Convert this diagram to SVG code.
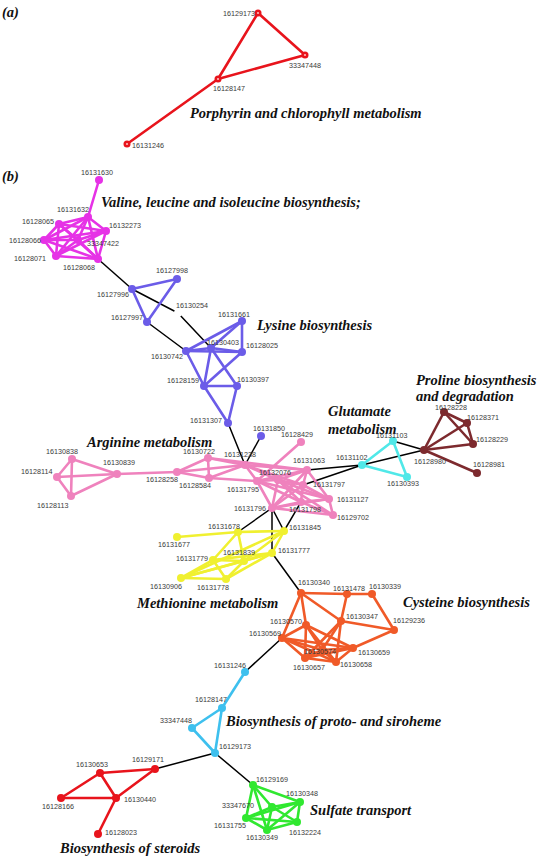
<svg xmlns="http://www.w3.org/2000/svg" width="541" height="856" viewBox="0 0 541 856">
<style>
text{font-family:"Liberation Sans",Arial,sans-serif;font-size:7.2px;fill:#3a3a3a}
.t{font-family:"Liberation Serif","Times New Roman",serif;font-size:14.5px;font-style:italic;font-weight:bold;fill:#111}
line{stroke-width:2.6;stroke-linecap:round}
.k{stroke:#000;stroke-width:1.5}
.r{stroke:#e8141c}.m{stroke:#e632e6}.b{stroke:#6b5ce8}.p{stroke:#ef82bd}.c{stroke:#50e8e8}.w{stroke:#7d2a2e}.y{stroke:#f0f030}.o{stroke:#f05a28}.s{stroke:#3ec0ee}.g{stroke:#30e830}
circle{stroke:none}
.R{fill:#e8141c}.M{fill:#e632e6}.B{fill:#6b5ce8}.P{fill:#ef82bd}.C{fill:#50e8e8}.W{fill:#7d2a2e}.Y{fill:#f0f030}.O{fill:#f05a28}.S{fill:#3ec0ee}.G{fill:#30e830}
</style>
<rect width="541" height="856" fill="#fff"/>
<text class="t" x="2" y="17">(a)</text>
<text class="t" x="2" y="181">(b)</text>
<text class="t" x="190" y="118">Porphyrin and chlorophyll metabolism</text>
<text class="t" x="101" y="207">Valine, leucine and isoleucine biosynthesis;</text>
<text class="t" x="257" y="330">Lysine biosynthesis</text>
<text class="t" x="416" y="385">Proline biosynthesis</text>
<text class="t" x="416" y="401">and degradation</text>
<text class="t" x="328" y="416">Glutamate</text>
<text class="t" x="328" y="434">metabolism</text>
<text class="t" x="87" y="447">Arginine metabolism</text>
<text class="t" x="137" y="608">Methionine metabolism</text>
<text class="t" x="403" y="607">Cysteine biosynthesis</text>
<text class="t" x="226" y="726">Biosynthesis of proto- and siroheme</text>
<text class="t" x="310" y="815">Sulfate transport</text>
<text class="t" x="60" y="853">Biosynthesis of steroids</text>
<g id="connectors">
<line class="r" x1="258" y1="13" x2="305" y2="55"/><line class="r" x1="305" y1="55" x2="218" y2="79"/><line class="r" x1="218" y1="79" x2="258" y2="13"/><line class="r" x1="218" y1="79" x2="127" y2="144"/>
<line class="k" x1="98" y1="259" x2="132" y2="289"/><line class="k" x1="132" y1="289" x2="178" y2="313"/><line class="k" x1="178" y1="313" x2="211" y2="348"/><line class="k" x1="147" y1="322" x2="186" y2="351"/><line class="k" x1="228" y1="423" x2="245" y2="465"/><line class="k" x1="261" y1="436" x2="245" y2="465"/><line class="k" x1="307" y1="470" x2="362" y2="465"/><line class="k" x1="303" y1="485" x2="362" y2="465"/><line class="k" x1="362" y1="465" x2="424" y2="450"/><line class="k" x1="393" y1="441" x2="424" y2="450"/><line class="k" x1="272" y1="508" x2="238" y2="532"/><line class="k" x1="272" y1="508" x2="272" y2="553"/><line class="k" x1="272" y1="508" x2="284" y2="531"/><line class="k" x1="301" y1="502" x2="284" y2="531"/><line class="k" x1="272" y1="553" x2="301" y2="593"/><line class="k" x1="282" y1="638" x2="245" y2="672"/><line class="k" x1="215" y1="753" x2="155" y2="769"/><line class="k" x1="215" y1="753" x2="253" y2="785"/>
<line class="m" x1="99" y1="180" x2="88" y2="217"/>
<line class="m" x1="88" y1="217" x2="59" y2="224"/><line class="m" x1="88" y1="217" x2="106" y2="231"/><line class="m" x1="88" y1="217" x2="44" y2="240"/><line class="m" x1="88" y1="217" x2="78" y2="240"/><line class="m" x1="88" y1="217" x2="56" y2="256"/><line class="m" x1="88" y1="217" x2="98" y2="259"/>
<line class="m" x1="59" y1="224" x2="106" y2="231"/><line class="m" x1="59" y1="224" x2="44" y2="240"/><line class="m" x1="59" y1="224" x2="78" y2="240"/><line class="m" x1="59" y1="224" x2="56" y2="256"/><line class="m" x1="59" y1="224" x2="98" y2="259"/>
<line class="m" x1="106" y1="231" x2="44" y2="240"/><line class="m" x1="106" y1="231" x2="78" y2="240"/><line class="m" x1="106" y1="231" x2="56" y2="256"/><line class="m" x1="106" y1="231" x2="98" y2="259"/>
<line class="m" x1="44" y1="240" x2="78" y2="240"/><line class="m" x1="44" y1="240" x2="56" y2="256"/><line class="m" x1="44" y1="240" x2="98" y2="259"/>
<line class="m" x1="78" y1="240" x2="56" y2="256"/><line class="m" x1="78" y1="240" x2="98" y2="259"/><line class="m" x1="56" y1="256" x2="98" y2="259"/>
<line class="b" x1="132" y1="289" x2="177" y2="279"/><line class="b" x1="177" y1="279" x2="147" y2="322"/><line class="b" x1="132" y1="289" x2="147" y2="322"/>
<line class="b" x1="242" y1="321" x2="186" y2="351"/><line class="b" x1="242" y1="321" x2="211" y2="348"/><line class="b" x1="242" y1="321" x2="242" y2="352"/><line class="b" x1="186" y1="351" x2="211" y2="348"/><line class="b" x1="186" y1="351" x2="242" y2="352"/><line class="b" x1="211" y1="348" x2="242" y2="352"/><line class="b" x1="186" y1="351" x2="204" y2="386"/><line class="b" x1="211" y1="348" x2="204" y2="386"/><line class="b" x1="211" y1="348" x2="237" y2="386"/><line class="b" x1="242" y1="352" x2="204" y2="386"/><line class="b" x1="204" y1="386" x2="237" y2="386"/><line class="b" x1="204" y1="386" x2="228" y2="423"/><line class="b" x1="237" y1="386" x2="228" y2="423"/>
<line class="p" x1="72" y1="459" x2="57" y2="477"/><line class="p" x1="72" y1="459" x2="71" y2="496"/><line class="p" x1="72" y1="459" x2="117" y2="474"/><line class="p" x1="57" y1="477" x2="71" y2="496"/><line class="p" x1="57" y1="477" x2="117" y2="474"/><line class="p" x1="71" y1="496" x2="117" y2="474"/><line class="p" x1="117" y1="474" x2="177" y2="472"/>
<line class="p" x1="177" y1="472" x2="208" y2="458"/><line class="p" x1="177" y1="472" x2="209" y2="478"/><line class="p" x1="177" y1="472" x2="245" y2="465"/><line class="p" x1="208" y1="458" x2="209" y2="478"/><line class="p" x1="208" y1="458" x2="245" y2="465"/><line class="p" x1="208" y1="458" x2="307" y2="470"/><line class="p" x1="209" y1="478" x2="245" y2="465"/><line class="p" x1="209" y1="478" x2="257" y2="481"/>
<line class="p" x1="301" y1="442" x2="257" y2="481"/>
<line class="p" x1="245" y1="465" x2="257" y2="481"/><line class="p" x1="245" y1="465" x2="278" y2="480"/><line class="p" x1="245" y1="465" x2="307" y2="470"/><line class="p" x1="245" y1="465" x2="303" y2="485"/><line class="p" x1="257" y1="481" x2="278" y2="480"/><line class="p" x1="257" y1="481" x2="307" y2="470"/><line class="p" x1="257" y1="481" x2="272" y2="508"/><line class="p" x1="257" y1="481" x2="301" y2="502"/><line class="p" x1="257" y1="481" x2="329" y2="499"/><line class="p" x1="278" y1="480" x2="307" y2="470"/><line class="p" x1="278" y1="480" x2="303" y2="485"/><line class="p" x1="278" y1="480" x2="272" y2="508"/><line class="p" x1="278" y1="480" x2="301" y2="502"/><line class="p" x1="278" y1="480" x2="329" y2="499"/><line class="p" x1="278" y1="480" x2="333" y2="515"/><line class="p" x1="307" y1="470" x2="303" y2="485"/><line class="p" x1="307" y1="470" x2="272" y2="508"/><line class="p" x1="307" y1="470" x2="329" y2="499"/><line class="p" x1="303" y1="485" x2="272" y2="508"/><line class="p" x1="303" y1="485" x2="301" y2="502"/><line class="p" x1="303" y1="485" x2="329" y2="499"/><line class="p" x1="272" y1="508" x2="301" y2="502"/><line class="p" x1="272" y1="508" x2="329" y2="499"/><line class="p" x1="272" y1="508" x2="333" y2="515"/><line class="p" x1="301" y1="502" x2="329" y2="499"/><line class="p" x1="301" y1="502" x2="333" y2="515"/><line class="p" x1="329" y1="499" x2="333" y2="515"/>
<line class="c" x1="362" y1="465" x2="393" y2="441"/><line class="c" x1="393" y1="441" x2="407" y2="477"/><line class="c" x1="362" y1="465" x2="407" y2="477"/>
<line class="w" x1="424" y1="450" x2="444" y2="412"/><line class="w" x1="424" y1="450" x2="467" y2="423"/><line class="w" x1="424" y1="450" x2="473" y2="444"/><line class="w" x1="424" y1="450" x2="477" y2="473"/><line class="w" x1="444" y1="412" x2="467" y2="423"/><line class="w" x1="444" y1="412" x2="473" y2="444"/><line class="w" x1="467" y1="423" x2="473" y2="444"/>
<line class="y" x1="177" y1="537" x2="238" y2="532"/><line class="y" x1="238" y1="532" x2="284" y2="531"/><line class="y" x1="238" y1="532" x2="213" y2="560"/><line class="y" x1="238" y1="532" x2="244" y2="561"/><line class="y" x1="284" y1="531" x2="244" y2="561"/><line class="y" x1="284" y1="531" x2="272" y2="553"/><line class="y" x1="284" y1="531" x2="181" y2="578"/><line class="y" x1="272" y1="553" x2="244" y2="561"/><line class="y" x1="272" y1="553" x2="213" y2="560"/><line class="y" x1="272" y1="553" x2="181" y2="578"/><line class="y" x1="272" y1="553" x2="226" y2="579"/><line class="y" x1="213" y1="560" x2="244" y2="561"/><line class="y" x1="213" y1="560" x2="181" y2="578"/><line class="y" x1="213" y1="560" x2="226" y2="579"/><line class="y" x1="181" y1="578" x2="226" y2="579"/><line class="y" x1="181" y1="578" x2="244" y2="561"/><line class="y" x1="244" y1="561" x2="226" y2="579"/>
<line class="o" x1="301" y1="593" x2="347" y2="594"/><line class="o" x1="347" y1="594" x2="372" y2="594"/><line class="o" x1="372" y1="594" x2="394" y2="630"/><line class="o" x1="301" y1="593" x2="341" y2="621"/><line class="o" x1="301" y1="593" x2="306" y2="625"/><line class="o" x1="301" y1="593" x2="282" y2="638"/><line class="o" x1="347" y1="594" x2="341" y2="621"/><line class="o" x1="341" y1="621" x2="394" y2="630"/><line class="o" x1="394" y1="630" x2="353" y2="648"/><line class="o" x1="341" y1="621" x2="322" y2="650"/><line class="o" x1="341" y1="621" x2="305" y2="658"/><line class="o" x1="341" y1="621" x2="336" y2="662"/><line class="o" x1="306" y1="625" x2="282" y2="638"/><line class="o" x1="306" y1="625" x2="322" y2="650"/><line class="o" x1="306" y1="625" x2="353" y2="648"/><line class="o" x1="306" y1="625" x2="305" y2="658"/><line class="o" x1="306" y1="625" x2="336" y2="662"/><line class="o" x1="282" y1="638" x2="322" y2="650"/><line class="o" x1="282" y1="638" x2="353" y2="648"/><line class="o" x1="282" y1="638" x2="305" y2="658"/><line class="o" x1="282" y1="638" x2="336" y2="662"/><line class="o" x1="322" y1="650" x2="353" y2="648"/><line class="o" x1="322" y1="650" x2="305" y2="658"/><line class="o" x1="322" y1="650" x2="336" y2="662"/><line class="o" x1="353" y1="648" x2="305" y2="658"/><line class="o" x1="353" y1="648" x2="336" y2="662"/><line class="o" x1="305" y1="658" x2="336" y2="662"/>
<line class="s" x1="245" y1="672" x2="222" y2="708"/><line class="s" x1="222" y1="708" x2="192" y2="728"/><line class="s" x1="192" y1="728" x2="215" y2="753"/><line class="s" x1="222" y1="708" x2="215" y2="753"/>
<line class="r" x1="100" y1="773" x2="155" y2="769"/><line class="r" x1="100" y1="773" x2="61" y2="798"/><line class="r" x1="100" y1="773" x2="116" y2="798"/><line class="r" x1="155" y1="769" x2="116" y2="798"/><line class="r" x1="61" y1="798" x2="116" y2="798"/><line class="r" x1="116" y1="798" x2="98" y2="834"/>
<line class="g" x1="253" y1="785" x2="300" y2="802"/><line class="g" x1="253" y1="785" x2="272" y2="807"/><line class="g" x1="253" y1="785" x2="246" y2="818"/><line class="g" x1="253" y1="785" x2="267" y2="830"/><line class="g" x1="300" y1="802" x2="272" y2="807"/><line class="g" x1="300" y1="802" x2="246" y2="818"/><line class="g" x1="300" y1="802" x2="297" y2="822"/><line class="g" x1="300" y1="802" x2="267" y2="830"/><line class="g" x1="272" y1="807" x2="246" y2="818"/><line class="g" x1="272" y1="807" x2="297" y2="822"/><line class="g" x1="272" y1="807" x2="267" y2="830"/><line class="g" x1="246" y1="818" x2="297" y2="822"/><line class="g" x1="246" y1="818" x2="267" y2="830"/><line class="g" x1="297" y1="822" x2="267" y2="830"/>
</g>
<g id="a-16129173"><circle class="R" cx="258" cy="13" r="3.5"/><circle cx="258" cy="13" r="1.1" fill="#fbb"/><text x="223" y="15.5">16129173</text></g>
<g id="a-33347448"><circle class="R" cx="305" cy="55" r="3.5"/><circle cx="305" cy="55" r="1.1" fill="#fbb"/><text x="289" y="67.5">33347448</text></g>
<g id="a-16128147"><circle class="R" cx="218" cy="79" r="3.5"/><circle cx="218" cy="79" r="1.1" fill="#fbb"/><text x="213" y="90.5">16128147</text></g>
<g id="a-16131246"><circle class="R" cx="127" cy="144" r="3.5"/><circle cx="127" cy="144" r="1.1" fill="#fbb"/><text x="132" y="147.5">16131246</text></g>
<g id="n16131630"><circle class="M" cx="99" cy="180" r="4"/><text x="81" y="175">16131630</text></g>
<g id="n16131632"><circle class="M" cx="88" cy="217" r="4"/><text x="57" y="211.5">16131632</text></g>
<g id="n16128065"><circle class="M" cx="59" cy="224" r="4"/><text x="22" y="223.5">16128065</text></g>
<g id="n16132273"><circle class="M" cx="106" cy="231" r="4"/><text x="109" y="227.5">16132273</text></g>
<g id="n16128066"><circle class="M" cx="44" cy="240" r="4"/><text x="9" y="243">16128066</text></g>
<g id="n33347422"><circle class="M" cx="78" cy="240" r="4"/><text x="87" y="246">33347422</text></g>
<g id="n16128071"><circle class="M" cx="56" cy="256" r="4"/><text x="14" y="261">16128071</text></g>
<g id="n16128068"><circle class="M" cx="98" cy="259" r="4"/><text x="63" y="270">16128068</text></g>
<g id="n16127998"><circle class="B" cx="177" cy="279" r="4"/><text x="156" y="273">16127998</text></g>
<g id="n16127996"><circle class="B" cx="132" cy="289" r="4"/><text x="97" y="296.5">16127996</text></g>
<g id="n16127997"><circle class="B" cx="147" cy="322" r="4"/><text x="111" y="320">16127997</text></g>
<g id="n16130254"><circle cx="178" cy="313" r="4" fill="#fff" stroke="#000" stroke-width="1"/><text x="176" y="308">16130254</text></g>
<g id="n16131661"><circle class="B" cx="242" cy="321" r="4"/><text x="218" y="317">16131661</text></g>
<g id="n16130403"><circle class="B" cx="211" cy="348" r="4"/><text x="207" y="345">16130403</text></g>
<g id="n16130742"><circle class="B" cx="186" cy="351" r="4"/><text x="151" y="358.5">16130742</text></g>
<g id="n16128025"><circle class="B" cx="242" cy="352" r="4"/><text x="246" y="347.5">16128025</text></g>
<g id="n16128159"><circle class="B" cx="204" cy="386" r="4"/><text x="167" y="382.5">16128159</text></g>
<g id="n16130397"><circle class="B" cx="237" cy="386" r="4"/><text x="237" y="381.5">16130397</text></g>
<g id="n16131307"><circle class="B" cx="228" cy="423" r="4"/><text x="190" y="422.5">16131307</text></g>
<g id="n16131850"><circle class="B" cx="261" cy="436" r="4"/><text x="253" y="431">16131850</text></g>
<g id="n16130838"><circle class="P" cx="72" cy="459" r="4"/><text x="46" y="454">16130838</text></g>
<g id="n16128114"><circle class="P" cx="57" cy="477" r="4"/><text x="21" y="474">16128114</text></g>
<g id="n16128113"><circle class="P" cx="71" cy="496" r="4"/><text x="37" y="508">16128113</text></g>
<g id="n16130839"><circle class="P" cx="117" cy="474" r="4"/><text x="103" y="465">16130839</text></g>
<g id="n16128258"><circle class="P" cx="177" cy="472" r="4"/><text x="146" y="482">16128258</text></g>
<g id="n16130722"><circle class="P" cx="208" cy="458" r="4"/><text x="183" y="454">16130722</text></g>
<g id="n16128584"><circle class="P" cx="209" cy="478" r="4"/><text x="179" y="488">16128584</text></g>
<g id="n16131238"><circle class="P" cx="245" cy="465" r="4"/><text x="224" y="457">16131238</text></g>
<g id="n16128429"><circle class="P" cx="301" cy="442" r="4"/><text x="281" y="436.5">16128429</text></g>
<g id="n16131063"><circle class="P" cx="307" cy="470" r="4"/><text x="293" y="463">16131063</text></g>
<g id="n16132076"><circle class="P" cx="278" cy="480" r="4"/><text x="259" y="474.5">16132076</text></g>
<g id="n16131795"><circle class="P" cx="257" cy="481" r="4"/><text x="227" y="492">16131795</text></g>
<g id="n16131797"><circle class="P" cx="303" cy="485" r="4"/><text x="313" y="486.5">16131797</text></g>
<g id="n16131127"><circle class="P" cx="329" cy="499" r="4"/><text x="337" y="502">16131127</text></g>
<g id="n16131796"><circle class="P" cx="272" cy="508" r="4"/><text x="234" y="511">16131796</text></g>
<g id="n16131798"><circle class="P" cx="301" cy="502" r="4"/><text x="289" y="512">16131798</text></g>
<g id="n16129702"><circle class="P" cx="333" cy="515" r="4"/><text x="337" y="520">16129702</text></g>
<g id="n16131102"><circle class="C" cx="362" cy="465" r="4"/><text x="336" y="460">16131102</text></g>
<g id="n16131103"><circle class="C" cx="393" cy="441" r="4"/><text x="376" y="438">16131103</text></g>
<g id="n16130393"><circle class="C" cx="407" cy="477" r="4"/><text x="387" y="486">16130393</text></g>
<g id="n16128980"><circle class="W" cx="424" cy="450" r="4"/><text x="414" y="463.5">16128980</text></g>
<g id="n16128228"><circle class="W" cx="444" cy="412" r="4"/><text x="435" y="410">16128228</text></g>
<g id="n16128371"><circle class="W" cx="467" cy="423" r="4"/><text x="467" y="420">16128371</text></g>
<g id="n16128229"><circle class="W" cx="473" cy="444" r="4"/><text x="476" y="441.5">16128229</text></g>
<g id="n16128981"><circle class="W" cx="477" cy="473" r="4"/><text x="473" y="467">16128981</text></g>
<g id="n16131678"><circle class="Y" cx="238" cy="532" r="4"/><text x="208" y="528.5">16131678</text></g>
<g id="n16131677"><circle class="Y" cx="177" cy="537" r="4"/><text x="158" y="547">16131677</text></g>
<g id="n16131845"><circle class="Y" cx="284" cy="531" r="4"/><text x="289" y="530">16131845</text></g>
<g id="n16131777"><circle class="Y" cx="272" cy="553" r="4"/><text x="278" y="553">16131777</text></g>
<g id="n16131839"><circle class="Y" cx="244" cy="561" r="4"/><text x="223" y="555">16131839</text></g>
<g id="n16131779"><circle class="Y" cx="213" cy="560" r="4"/><text x="176" y="561">16131779</text></g>
<g id="n16130906"><circle class="Y" cx="181" cy="578" r="4"/><text x="150" y="589">16130906</text></g>
<g id="n16131778"><circle class="Y" cx="226" cy="579" r="4"/><text x="197" y="590">16131778</text></g>
<g id="n16130340"><circle class="O" cx="301" cy="593" r="4"/><text x="298" y="585">16130340</text></g>
<g id="n16131478"><circle class="O" cx="347" cy="594" r="4"/><text x="333" y="591">16131478</text></g>
<g id="n16130339"><circle class="O" cx="372" cy="594" r="4"/><text x="369" y="588.5">16130339</text></g>
<g id="n16130347"><circle class="O" cx="341" cy="621" r="4"/><text x="346" y="618.5">16130347</text></g>
<g id="n16129236"><circle class="O" cx="394" cy="630" r="4"/><text x="393" y="622.5">16129236</text></g>
<g id="n16130570"><circle class="O" cx="306" cy="625" r="4"/><text x="270" y="624">16130570</text></g>
<g id="n16130569"><circle class="O" cx="282" cy="638" r="4"/><text x="249" y="636">16130569</text></g>
<g id="n16130574"><circle class="O" cx="322" cy="650" r="4"/><text x="304" y="653.5">16130574</text></g>
<g id="n16130659"><circle class="O" cx="353" cy="648" r="4"/><text x="358" y="654.5">16130659</text></g>
<g id="n16130657"><circle class="O" cx="305" cy="658" r="4"/><text x="293" y="670">16130657</text></g>
<g id="n16130658"><circle class="O" cx="336" cy="662" r="4"/><text x="340" y="667">16130658</text></g>
<g id="n16131246"><circle class="S" cx="245" cy="672" r="4"/><text x="214" y="667.5">16131246</text></g>
<g id="n16128147"><circle class="S" cx="222" cy="708" r="4"/><text x="195" y="702">16128147</text></g>
<g id="n33347448"><circle class="S" cx="192" cy="728" r="4"/><text x="160" y="723">33347448</text></g>
<g id="n16129173"><circle class="S" cx="215" cy="753" r="4"/><text x="219" y="749">16129173</text></g>
<g id="n16129171"><circle class="R" cx="155" cy="769" r="4"/><text x="132" y="762">16129171</text></g>
<g id="n16130653"><circle class="R" cx="100" cy="773" r="4"/><text x="76" y="766.5">16130653</text></g>
<g id="n16128166"><circle class="R" cx="61" cy="798" r="4"/><text x="42" y="808.5">16128166</text></g>
<g id="n16130440"><circle class="R" cx="116" cy="798" r="4"/><text x="124" y="802">16130440</text></g>
<g id="n16128023"><circle class="R" cx="98" cy="834" r="4"/><text x="105" y="834.5">16128023</text></g>
<g id="n16129169"><circle class="G" cx="253" cy="785" r="4"/><text x="256" y="781.5">16129169</text></g>
<g id="n16130348"><circle class="G" cx="300" cy="802" r="4"/><text x="286" y="796">16130348</text></g>
<g id="n33347670"><circle class="G" cx="272" cy="807" r="4"/><text x="222" y="808">33347670</text></g>
<g id="n16131755"><circle class="G" cx="246" cy="818" r="4"/><text x="214" y="827.5">16131755</text></g>
<g id="n16132224"><circle class="G" cx="297" cy="822" r="4"/><text x="289" y="834.5">16132224</text></g>
<g id="n16130349"><circle class="G" cx="267" cy="830" r="4"/><text x="246" y="840">16130349</text></g>
</svg>
